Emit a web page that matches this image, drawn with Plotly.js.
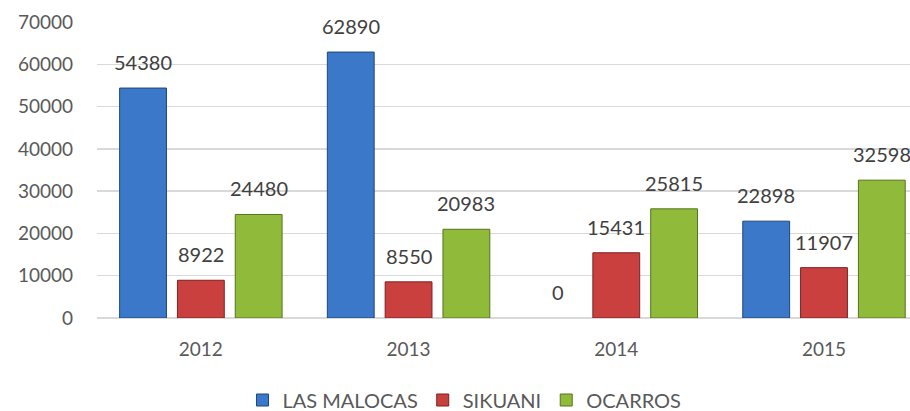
<!DOCTYPE html>
<html>
<head>
<meta charset="utf-8">
<script src="https://cdn.plot.ly/plotly-3.0.1.min.js"></script>
<style>html,body{margin:0;padding:0;background:#fff;}#chart{width:910px;height:411px;}</style>
</head>
<body>
<div id="chart"></div>
<script>
var years = ['2012', '2013', '2014', '2015'];
var seriesNames = ['LAS MALOCAS', 'SIKUANI', 'OCARROS'];
var lasMalocas = [54380, 62890, 0, 22898];
var sikuani = [8922, 8550, 15431, 11907];
var ocarros = [24480, 20983, 25815, 32598];
var yTicks = [0, 10000, 20000, 30000, 40000, 50000, 60000, 70000];

var seriesValues = [lasMalocas, sikuani, ocarros];
var fillColors = ['#3b78c9', '#c9403f', '#8fba3a'];
var lineColors = ['#1f4676', '#7a2222', '#56731f'];

var W = 910, H = 411;
var margin = {l: 97, r: 0, t: 22, b: 93, autoexpand: false};
var xRange = [-0.5, 3.414];
var bargap = 0.165, bargroupgap = 0.19;
var plotW = W - margin.l - margin.r;
var plotH = H - margin.t - margin.b;
var catPx = plotW / (xRange[1] - xRange[0]);
var slotPx = catPx * (1 - bargap) / 3;

var traces = seriesValues.map(function (vals, i) {
  return {
    type: 'bar',
    name: seriesNames[i],
    x: years,
    y: vals,
    marker: {
      color: fillColors[i],
      line: {color: lineColors[i], width: vals.map(function (v) { return v === 0 ? 0 : 1; })}
    },
    hoverinfo: 'none'
  };
});

var annotations = [];
seriesValues.forEach(function (vals, i) {
  vals.forEach(function (v, j) {
    annotations.push({
      x: j, y: v, xref: 'x', yref: 'y',
      text: String(v), showarrow: false,
      xanchor: 'center', yanchor: 'bottom',
      xshift: (i - 1) * slotPx, yshift: 12,
      font: {family: 'Lato, "Open Sans", sans-serif', size: 20, color: '#404040'}
    });
  });
});

var layout = {
  width: W, height: H,
  margin: margin,
  paper_bgcolor: '#ffffff', plot_bgcolor: '#ffffff',
  barmode: 'group', bargap: bargap, bargroupgap: bargroupgap,
  font: {family: 'Lato, "Open Sans", sans-serif', color: '#595959'},
  xaxis: {
    type: 'category', range: xRange,
    showgrid: false, zeroline: false, showline: false,
    ticks: '', ticklabelstandoff: 18,
    tickfont: {size: 19, color: '#595959'}
  },
  yaxis: {
    range: [0, 70000], tickvals: yTicks, ticktext: yTicks.map(String),
    showgrid: true, gridcolor: '#d9d9d9', gridwidth: 1.5,
    zeroline: true, zerolinecolor: '#d9d9d9', zerolinewidth: 1.5,
    showline: false, ticks: '', ticklabelstandoff: 23,
    tickfont: {size: 19, color: '#595959'}
  },
  showlegend: true,
  legend: {
    orientation: 'h', x: 0.452, xanchor: 'center', y: -(400 - 318) / plotH, yanchor: 'middle',
    font: {size: 20, color: '#595959'}, itemwidth: 30, traceorder: 'normal'
  },
  annotations: annotations
};

Plotly.newPlot('chart', traces, layout, {displayModeBar: false, staticPlot: true});
</script>
</body>
</html>
